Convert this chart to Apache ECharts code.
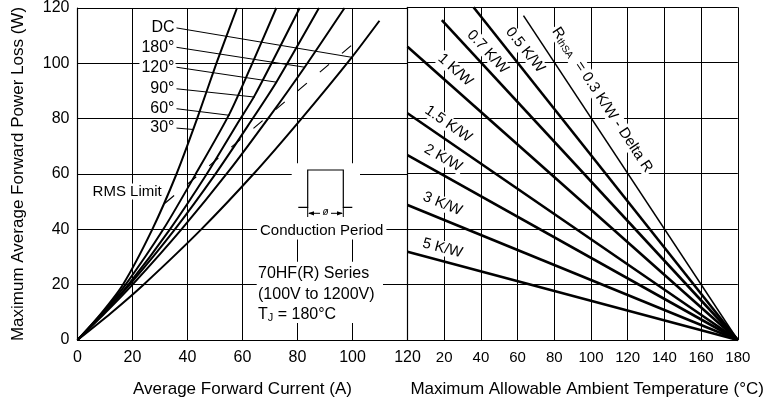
<!DOCTYPE html>
<html><head><meta charset="utf-8">
<script src="https://cdn.jsdelivr.net/npm/echarts@6/dist/echarts.min.js"></script>
<style>html,body{margin:0;padding:0;background:#fff}#c{width:767px;height:408px}</style>
</head><body><div id="c"></div>
<script>
// ---------------- data ----------------
const currentTicks = [0, 20, 40, 60, 80, 100, 120];
const tempTicks = [0, 20, 40, 60, 80, 100, 120, 140, 160, 180];
const powerTicks = [0, 20, 40, 60, 80, 100, 120];

const angleNames = ['DC', '180°', '120°', '90°', '60°', '30°'];
const curveDC  = [[0,0],[12,9.6],[24,20],[45,40],[64,60],[81,79.5],[99.6,102],[109.8,115.4]];
const curve180 = [[0,0],[10,9.7],[20,20],[37.8,40],[55,61],[70,81],[82.6,98.6],[97.1,120]];
const curve120 = [[0,0],[10,10.2],[19,20],[35.4,40],[50,59.8],[62,77.5],[72.3,93.2],[87.8,120]];
const curve90  = [[0,0],[10,10.4],[18.5,20],[33.6,40],[47,60],[58,78],[64.5,88.5],[80.8,120]];
const curve60  = [[0,0],[10,10.9],[17.5,20],[31.2,40],[43,60],[55.4,82],[64,101],[72.3,120]];
const curve30  = [[0,0],[8,8.9],[16.5,20],[27.2,40],[36,60],[43.5,80],[50.5,100],[58,120]];
const rmsLimit = [[31.8,49.4],[103.3,109.6]];
const leaderFrom = [[36,112.8],[36,105.8],[36,98.6],[36,90.8],[36,83.6],[36,76.6]];
const leaderTo   = [[99.6,102.2],[82.6,98.6],[72.3,93.2],[64.5,87.8],[55.4,81.2],[42,76.1]];
const rmsLabelAt = [31.0, 53.7];

const rthNames = ['0.3', '0.5', '0.7', '1', '1.5', '2', '3', '5'];
const rthStart = [[63.2,117],[36,120],[18.7,115.4],[0,105.8],[0,81.8],[0,66.7],[0,48.7],[0,31.8]];
const rthEnd = [180, 0];
const rthLabelAt = [[106.1,86.6],[64.1,104.6],[43.7,103.9],[26,97.4],[22.2,77.9],[19.4,65.6],[19.1,49.1],[19.1,33.1]];

// ---------------- chart ----------------
const FONT = 'Liberation Sans, Arial, sans-serif';
const chart = echarts.init(document.getElementById('c'), null, {renderer: 'canvas', width: 767, height: 408});
const curves = [curveDC, curve180, curve120, curve90, curve60, curve30];

const axisCommon = {
  type: 'value', min: 0, interval: 20,
  axisLine: {show: true, lineStyle: {color: '#000', width: 1.2}},
  axisTick: {show: false},
  splitLine: {show: true, lineStyle: {color: '#000', width: 1}},
};

const series = [];
curves.forEach((c, i) => series.push({
  type: 'line', xAxisIndex: 0, yAxisIndex: 0, data: c, showSymbol: false, silent: true,
  smooth: 0.25, lineStyle: {color: '#000', width: 2}, z: 5
}));
series.push({
  type: 'line', xAxisIndex: 0, yAxisIndex: 0, data: rmsLimit, showSymbol: false, silent: true,
  lineStyle: {color: '#000', width: 1.2, type: [12, 17]}, z: 4
});
leaderFrom.forEach((p, i) => series.push({
  type: 'line', xAxisIndex: 0, yAxisIndex: 0, data: [p, leaderTo[i]], showSymbol: false, silent: true,
  lineStyle: {color: '#000', width: 1}, z: 4
}));
rthStart.forEach((p, i) => series.push({
  type: 'line', xAxisIndex: 1, yAxisIndex: 1, data: [p, rthEnd], showSymbol: false, silent: true,
  lineStyle: {color: '#000', width: i === 0 ? 1.5 : 2.6}, z: 5
}));

chart.setOption({
  animation: false,
  backgroundColor: '#fff',
  grid: [
    {left: 77.5, top: 7.3, width: 330, height: 332.7},
    {left: 407.5, top: 7.3, width: 330.3, height: 332.7}
  ],
  xAxis: [
    Object.assign({}, axisCommon, {gridIndex: 0, max: 120,
      axisLabel: {color: '#000', fontSize: 16, fontFamily: FONT, margin: 10},
      name: 'Average Forward Current (A)', nameLocation: 'middle', nameGap: 41,
      nameTextStyle: {color: '#000', fontSize: 17, fontFamily: FONT}}),
    Object.assign({}, axisCommon, {gridIndex: 1, max: 180,
      axisLabel: {color: '#000', fontSize: 15, fontFamily: FONT, margin: 10, formatter: v => v === 0 ? '' : String(v)},
      name: 'Maximum Allowable Ambient Temperature (°C)', nameLocation: 'middle', nameGap: 41,
      nameTextStyle: {color: '#000', fontSize: 17, fontFamily: FONT, padding: [0, 0, 0, 29]}})
  ],
  yAxis: [
    Object.assign({}, axisCommon, {gridIndex: 0, max: 120,
      axisLabel: {color: '#000', fontSize: 16, fontFamily: FONT, margin: 8},
      name: 'Maximum Average Forward Power Loss (W)', nameLocation: 'middle', nameGap: 51,
      nameTextStyle: {color: '#000', fontSize: 17, fontFamily: FONT}}),
    Object.assign({}, axisCommon, {gridIndex: 1, max: 120, axisLabel: {show: false}})
  ],
  series: series
});

// ---------------- annotations ----------------
function px(g, p) { return chart.convertToPixel({gridIndex: g}, p); }
const g = [];
angleNames.forEach((n, i) => {
  const p = px(0, leaderFrom[i]);
  g.push({type: 'text', x: p[0] - 1, y: p[1], z: 100,
    style: {text: n, fill: '#000', font: '16px ' + FONT, align: 'right', verticalAlign: 'middle',
      backgroundColor: '#fff', padding: [1, 1, 0, 2]}});
});
{
  const p = px(0, rmsLabelAt);
  g.push({type: 'text', x: p[0], y: p[1], z: 100,
    style: {text: 'RMS Limit', fill: '#000', font: '15px ' + FONT, align: 'right', verticalAlign: 'middle',
      backgroundColor: '#fff', padding: [1, 1, 0, 2]}});
}
rthNames.forEach((n, i) => {
  const p = px(1, rthLabelAt[i]);
  const a = px(1, rthStart[i]), b = px(1, rthEnd);
  const ang = Math.atan2(b[1] - a[1], b[0] - a[0]);
  const st = {fill: '#000', font: '15px ' + FONT, align: 'center', verticalAlign: 'middle',
    backgroundColor: '#fff', padding: [0, 2]};
  if (i === 0) {
    st.text = '{r|R}{s|thSA}{r|  = ' + n + ' K/W - Delta R}';
    st.rich = {r: {fontSize: 15, fontFamily: FONT, fill: '#000'},
               s: {fontSize: 10, fontFamily: FONT, fill: '#000', verticalAlign: 'bottom', padding: [6, 0, 0, 0]}};
  } else {
    st.text = n + ' K/W';
  }
  g.push({type: 'text', x: p[0], y: p[1], rotation: -ang, z: 100, style: st});
});
g.push({type: 'rect', z: 90, shape: {x: 291.7, y: 163.3, width: 68.3, height: 61.7}, style: {fill: '#fff'}});
g.push({type: 'polyline', z: 100, shape: {points: [[298.3,207.3],[307.7,207.3],[307.7,170],[343.3,170],[343.3,207.3],[352.3,207.3]]},
  style: {stroke: '#000', lineWidth: 1.2, fill: null}});
g.push({type: 'line', z: 100, shape: {x1: 307.7, y1: 207.3, x2: 307.7, y2: 217}, style: {stroke: '#000', lineWidth: 1}});
g.push({type: 'line', z: 100, shape: {x1: 343.3, y1: 207.3, x2: 343.3, y2: 217}, style: {stroke: '#000', lineWidth: 1}});
g.push({type: 'line', z: 100, shape: {x1: 309, y1: 213.3, x2: 320, y2: 213.3}, style: {stroke: '#000', lineWidth: 1}});
g.push({type: 'line', z: 100, shape: {x1: 331, y1: 213.3, x2: 342, y2: 213.3}, style: {stroke: '#000', lineWidth: 1}});
g.push({type: 'polygon', z: 100, shape: {points: [[308,213.3],[314,211.2],[314,215.4]]}, style: {fill: '#000'}});
g.push({type: 'polygon', z: 100, shape: {points: [[343,213.3],[337,211.2],[337,215.4]]}, style: {fill: '#000'}});
g.push({type: 'text', x: 325.5, y: 212.5, z: 100, style: {text: 'ø', fill: '#000', font: 'italic 10px ' + FONT, align: 'center', verticalAlign: 'middle'}});
g.push({type: 'text', x: 321.7, y: 231, z: 100, style: {text: 'Conduction Period', fill: '#000', font: '15px ' + FONT,
  align: 'center', verticalAlign: 'middle', backgroundColor: '#fff', padding: [1, 3]}});
g.push({type: 'rect', z: 90, shape: {x: 256.7, y: 261.7, width: 126.3, height: 61.3}, style: {fill: '#fff'}});
g.push({type: 'text', x: 258, y: 274, z: 100, style: {text: '70HF(R) Series', fill: '#000', font: '16px ' + FONT, align: 'left', verticalAlign: 'middle'}});
g.push({type: 'text', x: 258, y: 295, z: 100, style: {text: '(100V to 1200V)', fill: '#000', font: '16px ' + FONT, align: 'left', verticalAlign: 'middle'}});
g.push({type: 'text', x: 258, y: 315, z: 100, style: {text: '{r|T}{s|J}{r| = 180°C}', fill: '#000', align: 'left', verticalAlign: 'middle',
  rich: {r: {fontSize: 16, fontFamily: FONT, fill: '#000'}, s: {fontSize: 11, fontFamily: FONT, fill: '#000', verticalAlign: 'bottom', padding: [6, 0, 0, 0]}}}});

chart.setOption({graphic: g});
</script>
</body></html>
